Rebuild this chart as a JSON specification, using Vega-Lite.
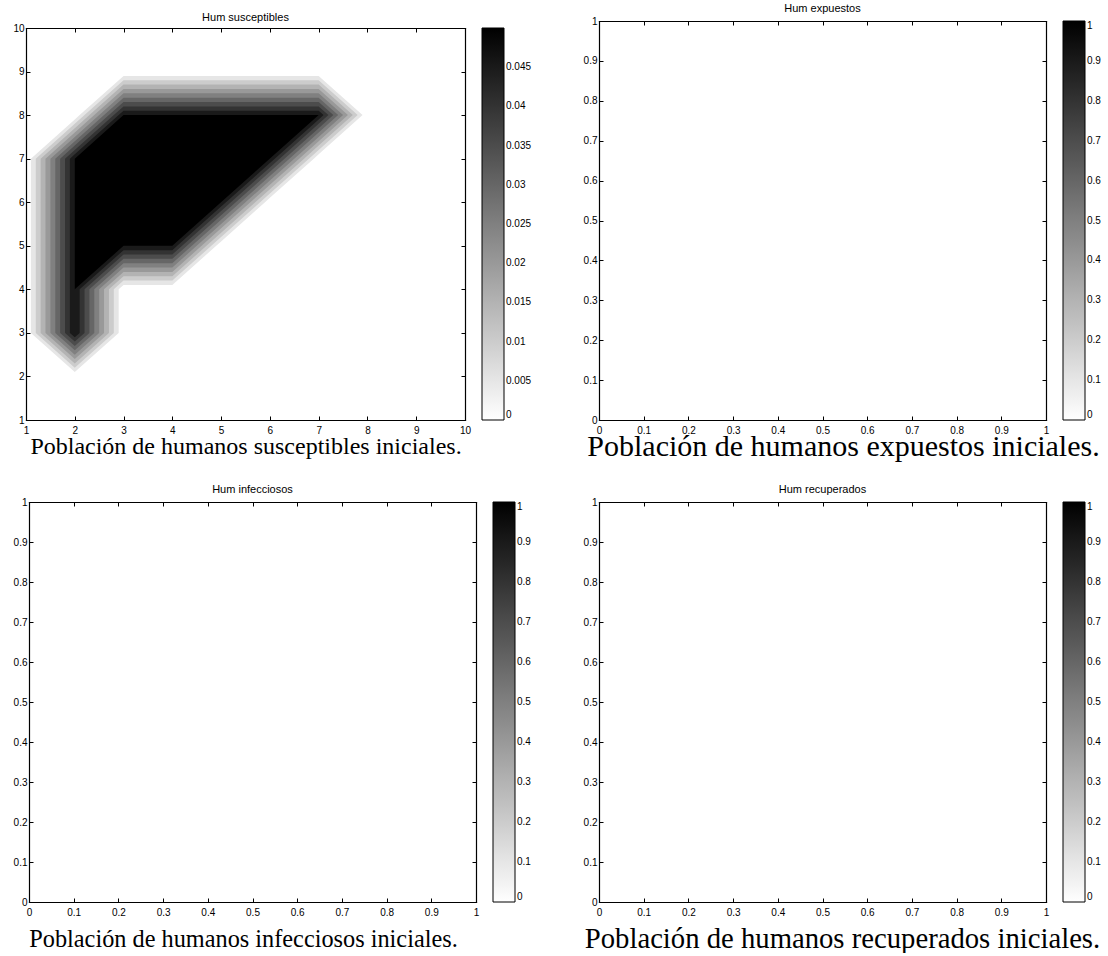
{
  "$schema": "https://vega.github.io/schema/vega-lite/v6.json",
  "background": "white",
  "padding": {"left": 12, "top": 3, "right": 0, "bottom": 0},
  "spacing": 23,
  "resolve": {"scale": {"color": "independent"}, "legend": {"color": "independent"}},
  "config": {
    "font": "Liberation Sans",
    "view": {"stroke": null},
    "axis": {"domain": true, "domainColor": "#000", "domainWidth": 1.2, "domainCap": "square", "grid": false, "ticks": true, "tickSize": -4, "tickColor": "#000", "tickWidth": 1, "labelFont": "Liberation Sans", "labelFontSize": 10, "labelColor": "#000", "labelFlush": false, "labelOverlap": false, "titleFont": "Liberation Serif", "titleFontWeight": "normal", "titleColor": "#000"},
    "legend": {"gradientThickness": 22, "gradientStrokeColor": "#000", "gradientStrokeWidth": 1, "labelFont": "Liberation Sans", "labelFontSize": 10, "labelColor": "#000", "labelOffset": 3, "padding": 0, "labelOverlap": false},
    "title": {"font": "Liberation Sans", "fontSize": 11, "fontWeight": "normal", "color": "#000", "anchor": "middle", "offset": 2}
  },
  "vconcat": [
    {
      "spacing": 51,
      "resolve": {"scale": {"color": "independent"}, "legend": {"color": "independent"}},
      "hconcat": [
        {
          "width": 439, "height": 399,
          "title": {"text": "Hum susceptibles", "dy": 4},
          "data": {"values": [
            {"v":0.005,"i":0,"x":1.1,"y":3},{"v":0.005,"i":1,"x":2,"y":2.1},{"v":0.005,"i":2,"x":2.9,"y":3},{"v":0.005,"i":3,"x":2.9,"y":4},{"v":0.005,"i":4,"x":3,"y":4.1},{"v":0.005,"i":5,"x":4,"y":4.1},{"v":0.005,"i":6,"x":4.9,"y":5},{"v":0.005,"i":7,"x":5,"y":5.1},{"v":0.005,"i":8,"x":5.9,"y":6},{"v":0.005,"i":9,"x":6,"y":6.1},{"v":0.005,"i":10,"x":6.9,"y":7},{"v":0.005,"i":11,"x":7,"y":7.1},{"v":0.005,"i":12,"x":7.9,"y":8},{"v":0.005,"i":13,"x":7,"y":8.9},{"v":0.005,"i":14,"x":3,"y":8.9},{"v":0.005,"i":15,"x":2.1,"y":8},{"v":0.005,"i":16,"x":2,"y":7.9},{"v":0.005,"i":17,"x":1.1,"y":7},
            {"v":0.01,"i":0,"x":1.2,"y":3},{"v":0.01,"i":1,"x":2,"y":2.2},{"v":0.01,"i":2,"x":2.8,"y":3},{"v":0.01,"i":3,"x":2.8,"y":4},{"v":0.01,"i":4,"x":3,"y":4.2},{"v":0.01,"i":5,"x":4,"y":4.2},{"v":0.01,"i":6,"x":4.8,"y":5},{"v":0.01,"i":7,"x":5,"y":5.2},{"v":0.01,"i":8,"x":5.8,"y":6},{"v":0.01,"i":9,"x":6,"y":6.2},{"v":0.01,"i":10,"x":6.8,"y":7},{"v":0.01,"i":11,"x":7,"y":7.2},{"v":0.01,"i":12,"x":7.8,"y":8},{"v":0.01,"i":13,"x":7,"y":8.8},{"v":0.01,"i":14,"x":3,"y":8.8},{"v":0.01,"i":15,"x":2.2,"y":8},{"v":0.01,"i":16,"x":2,"y":7.8},{"v":0.01,"i":17,"x":1.2,"y":7},
            {"v":0.015,"i":0,"x":1.3,"y":3},{"v":0.015,"i":1,"x":2,"y":2.3},{"v":0.015,"i":2,"x":2.7,"y":3},{"v":0.015,"i":3,"x":2.7,"y":4},{"v":0.015,"i":4,"x":3,"y":4.3},{"v":0.015,"i":5,"x":4,"y":4.3},{"v":0.015,"i":6,"x":4.7,"y":5},{"v":0.015,"i":7,"x":5,"y":5.3},{"v":0.015,"i":8,"x":5.7,"y":6},{"v":0.015,"i":9,"x":6,"y":6.3},{"v":0.015,"i":10,"x":6.7,"y":7},{"v":0.015,"i":11,"x":7,"y":7.3},{"v":0.015,"i":12,"x":7.7,"y":8},{"v":0.015,"i":13,"x":7,"y":8.7},{"v":0.015,"i":14,"x":3,"y":8.7},{"v":0.015,"i":15,"x":2.3,"y":8},{"v":0.015,"i":16,"x":2,"y":7.7},{"v":0.015,"i":17,"x":1.3,"y":7},
            {"v":0.02,"i":0,"x":1.4,"y":3},{"v":0.02,"i":1,"x":2,"y":2.4},{"v":0.02,"i":2,"x":2.6,"y":3},{"v":0.02,"i":3,"x":2.6,"y":4},{"v":0.02,"i":4,"x":3,"y":4.4},{"v":0.02,"i":5,"x":4,"y":4.4},{"v":0.02,"i":6,"x":4.6,"y":5},{"v":0.02,"i":7,"x":5,"y":5.4},{"v":0.02,"i":8,"x":5.6,"y":6},{"v":0.02,"i":9,"x":6,"y":6.4},{"v":0.02,"i":10,"x":6.6,"y":7},{"v":0.02,"i":11,"x":7,"y":7.4},{"v":0.02,"i":12,"x":7.6,"y":8},{"v":0.02,"i":13,"x":7,"y":8.6},{"v":0.02,"i":14,"x":3,"y":8.6},{"v":0.02,"i":15,"x":2.4,"y":8},{"v":0.02,"i":16,"x":2,"y":7.6},{"v":0.02,"i":17,"x":1.4,"y":7},
            {"v":0.025,"i":0,"x":1.5,"y":3},{"v":0.025,"i":1,"x":2,"y":2.5},{"v":0.025,"i":2,"x":2.5,"y":3},{"v":0.025,"i":3,"x":2.5,"y":4},{"v":0.025,"i":4,"x":3,"y":4.5},{"v":0.025,"i":5,"x":4,"y":4.5},{"v":0.025,"i":6,"x":4.5,"y":5},{"v":0.025,"i":7,"x":5,"y":5.5},{"v":0.025,"i":8,"x":5.5,"y":6},{"v":0.025,"i":9,"x":6,"y":6.5},{"v":0.025,"i":10,"x":6.5,"y":7},{"v":0.025,"i":11,"x":7,"y":7.5},{"v":0.025,"i":12,"x":7.5,"y":8},{"v":0.025,"i":13,"x":7,"y":8.5},{"v":0.025,"i":14,"x":3,"y":8.5},{"v":0.025,"i":15,"x":2.5,"y":8},{"v":0.025,"i":16,"x":2,"y":7.5},{"v":0.025,"i":17,"x":1.5,"y":7},
            {"v":0.03,"i":0,"x":1.6,"y":3},{"v":0.03,"i":1,"x":2,"y":2.6},{"v":0.03,"i":2,"x":2.4,"y":3},{"v":0.03,"i":3,"x":2.4,"y":4},{"v":0.03,"i":4,"x":3,"y":4.6},{"v":0.03,"i":5,"x":4,"y":4.6},{"v":0.03,"i":6,"x":4.4,"y":5},{"v":0.03,"i":7,"x":5,"y":5.6},{"v":0.03,"i":8,"x":5.4,"y":6},{"v":0.03,"i":9,"x":6,"y":6.6},{"v":0.03,"i":10,"x":6.4,"y":7},{"v":0.03,"i":11,"x":7,"y":7.6},{"v":0.03,"i":12,"x":7.4,"y":8},{"v":0.03,"i":13,"x":7,"y":8.4},{"v":0.03,"i":14,"x":3,"y":8.4},{"v":0.03,"i":15,"x":2.6,"y":8},{"v":0.03,"i":16,"x":2,"y":7.4},{"v":0.03,"i":17,"x":1.6,"y":7},
            {"v":0.035,"i":0,"x":1.7,"y":3},{"v":0.035,"i":1,"x":2,"y":2.7},{"v":0.035,"i":2,"x":2.3,"y":3},{"v":0.035,"i":3,"x":2.3,"y":4},{"v":0.035,"i":4,"x":3,"y":4.7},{"v":0.035,"i":5,"x":4,"y":4.7},{"v":0.035,"i":6,"x":4.3,"y":5},{"v":0.035,"i":7,"x":5,"y":5.7},{"v":0.035,"i":8,"x":5.3,"y":6},{"v":0.035,"i":9,"x":6,"y":6.7},{"v":0.035,"i":10,"x":6.3,"y":7},{"v":0.035,"i":11,"x":7,"y":7.7},{"v":0.035,"i":12,"x":7.3,"y":8},{"v":0.035,"i":13,"x":7,"y":8.3},{"v":0.035,"i":14,"x":3,"y":8.3},{"v":0.035,"i":15,"x":2.7,"y":8},{"v":0.035,"i":16,"x":2,"y":7.3},{"v":0.035,"i":17,"x":1.7,"y":7},
            {"v":0.04,"i":0,"x":1.8,"y":3},{"v":0.04,"i":1,"x":2,"y":2.8},{"v":0.04,"i":2,"x":2.2,"y":3},{"v":0.04,"i":3,"x":2.2,"y":4},{"v":0.04,"i":4,"x":3,"y":4.8},{"v":0.04,"i":5,"x":4,"y":4.8},{"v":0.04,"i":6,"x":4.2,"y":5},{"v":0.04,"i":7,"x":5,"y":5.8},{"v":0.04,"i":8,"x":5.2,"y":6},{"v":0.04,"i":9,"x":6,"y":6.8},{"v":0.04,"i":10,"x":6.2,"y":7},{"v":0.04,"i":11,"x":7,"y":7.8},{"v":0.04,"i":12,"x":7.2,"y":8},{"v":0.04,"i":13,"x":7,"y":8.2},{"v":0.04,"i":14,"x":3,"y":8.2},{"v":0.04,"i":15,"x":2.8,"y":8},{"v":0.04,"i":16,"x":2,"y":7.2},{"v":0.04,"i":17,"x":1.8,"y":7},
            {"v":0.045,"i":0,"x":1.9,"y":3},{"v":0.045,"i":1,"x":2,"y":2.9},{"v":0.045,"i":2,"x":2.1,"y":3},{"v":0.045,"i":3,"x":2.1,"y":4},{"v":0.045,"i":4,"x":3,"y":4.9},{"v":0.045,"i":5,"x":4,"y":4.9},{"v":0.045,"i":6,"x":4.1,"y":5},{"v":0.045,"i":7,"x":5,"y":5.9},{"v":0.045,"i":8,"x":5.1,"y":6},{"v":0.045,"i":9,"x":6,"y":6.9},{"v":0.045,"i":10,"x":6.1,"y":7},{"v":0.045,"i":11,"x":7,"y":7.9},{"v":0.045,"i":12,"x":7.1,"y":8},{"v":0.045,"i":13,"x":7,"y":8.1},{"v":0.045,"i":14,"x":3,"y":8.1},{"v":0.045,"i":15,"x":2.9,"y":8},{"v":0.045,"i":16,"x":2,"y":7.1},{"v":0.045,"i":17,"x":1.9,"y":7},
            {"v":0.05,"i":0,"x":2,"y":3},{"v":0.05,"i":1,"x":2,"y":4},{"v":0.05,"i":2,"x":3,"y":5},{"v":0.05,"i":3,"x":4,"y":5},{"v":0.05,"i":4,"x":7,"y":8},{"v":0.05,"i":5,"x":3,"y":8},{"v":0.05,"i":6,"x":2,"y":7}
          ]},
          "layer": [
            {
              "mark": {"type": "line", "filled": true, "strokeWidth": 0, "interpolate": "linear"},
              "encoding": {
                "x": {"field": "x", "type": "quantitative", "scale": {"domain": [1, 10], "nice": false, "zero": false},
                      "axis": {"orient": "bottom", "values": [1,2,3,4,5,6,7,8,9,10], "format": ".2~g", "labelPadding": 9, "title": "Población de humanos susceptibles iniciales.", "titleFontSize": 24, "titleX": 219.5, "titleY": 33, "titleBaseline": "alphabetic", "titleAlign": "center"}},
                "y": {"field": "y", "type": "quantitative", "scale": {"domain": [1, 10], "nice": false, "zero": false, "range": [399, 7]},
                      "axis": {"orient": "left", "values": [1,2,3,4,5,6,7,8,9,10], "format": ".2~g", "labelPadding": 6, "title": null}},
                "color": {"field": "v", "type": "quantitative", "scale": {"domain": [0, 0.05], "range": ["#ffffff", "#000000"], "interpolate": "rgb"},
                          "legend": {"orient": "none", "legendX": 456, "legendY": 7, "gradientLength": 392, "direction": "vertical", "values": [0,0.005,0.01,0.015,0.02,0.025,0.03,0.035,0.04,0.045], "format": ".2~g", "title": null, "labelBaseline": "middle"}},
                "detail": {"field": "v", "type": "nominal"},
                "order": {"field": "i", "type": "quantitative"}
              }
            },
            {
              "mark": {"type": "point", "opacity": 0},
              "encoding": {
                "x": {"field": "x", "type": "quantitative", "axis": {"orient": "top", "offset": -7, "values": [1,2,3,4,5,6,7,8,9,10], "labels": false, "title": null}},
                "y": {"field": "y", "type": "quantitative", "axis": {"orient": "right", "values": [1,2,3,4,5,6,7,8,9,10], "labels": false, "title": null}}
              }
            }
          ],
          "resolve": {"axis": {"x": "independent", "y": "independent"}}
        },
        {
          "width": 447, "height": 399,
          "title": {"text": "Hum expuestos"},
          "data": {"values": []},
          "layer": [
            {
              "mark": {"type": "line", "filled": true, "strokeWidth": 0},
              "encoding": {
                "x": {"field": "x", "type": "quantitative", "scale": {"domain": [0, 1], "nice": false, "zero": false},
                      "axis": {"orient": "bottom", "values": [0,0.1,0.2,0.3,0.4,0.5,0.6,0.7,0.8,0.9,1], "format": "~g", "labelPadding": 9, "title": "Población de humanos expuestos iniciales.", "titleFontSize": 30, "titleX": 244, "titleY": 35, "titleBaseline": "alphabetic", "titleAlign": "center"}},
                "y": {"field": "y", "type": "quantitative", "scale": {"domain": [0, 1], "nice": false, "zero": false},
                      "axis": {"orient": "left", "values": [0,0.1,0.2,0.3,0.4,0.5,0.6,0.7,0.8,0.9,1], "format": "~g", "labelPadding": 6, "title": null}},
                "color": {"field": "v", "type": "quantitative", "scale": {"domain": [0, 1], "range": ["#ffffff", "#000000"], "interpolate": "rgb"},
                          "legend": {"orient": "none", "legendX": 464, "legendY": 0, "gradientLength": 399, "direction": "vertical", "values": [0,0.1,0.2,0.3,0.4,0.5,0.6,0.7,0.8,0.9,1], "format": "~g", "title": null, "labelBaseline": "middle"}},
                "order": {"field": "i", "type": "quantitative"}
              }
            },
            {
              "mark": {"type": "point", "opacity": 0},
              "encoding": {
                "x": {"field": "x", "type": "quantitative", "axis": {"orient": "top", "values": [0,0.1,0.2,0.3,0.4,0.5,0.6,0.7,0.8,0.9,1], "labels": false, "title": null}},
                "y": {"field": "y", "type": "quantitative", "axis": {"orient": "right", "values": [0,0.1,0.2,0.3,0.4,0.5,0.6,0.7,0.8,0.9,1], "labels": false, "title": null}}
              }
            }
          ],
          "resolve": {"axis": {"x": "independent", "y": "independent"}}
        }
      ]
    },
    {
      "spacing": 52,
      "resolve": {"scale": {"color": "independent"}, "legend": {"color": "independent"}},
      "hconcat": [
        {
          "width": 450, "height": 400,
          "title": {"text": "Hum infecciosos", "dx": 1.5},
          "data": {"values": []},
          "layer": [
            {
              "mark": {"type": "line", "filled": true, "strokeWidth": 0},
              "encoding": {
                "x": {"field": "x", "type": "quantitative", "scale": {"domain": [0, 1], "nice": false, "zero": false, "range": [3, 450]},
                      "axis": {"orient": "bottom", "values": [0,0.1,0.2,0.3,0.4,0.5,0.6,0.7,0.8,0.9,1], "format": "~g", "labelPadding": 9, "title": "Población de humanos infecciosos iniciales.", "titleFontSize": 24.3, "titleX": 217, "titleY": 44, "titleBaseline": "alphabetic", "titleAlign": "center"}},
                "y": {"field": "y", "type": "quantitative", "scale": {"domain": [0, 1], "nice": false, "zero": false},
                      "axis": {"orient": "left", "offset": -3, "values": [0,0.1,0.2,0.3,0.4,0.5,0.6,0.7,0.8,0.9,1], "format": "~g", "labelPadding": 6, "title": null}},
                "color": {"field": "v", "type": "quantitative", "scale": {"domain": [0, 1], "range": ["#ffffff", "#000000"], "interpolate": "rgb"},
                          "legend": {"orient": "none", "legendX": 467, "legendY": 0, "gradientLength": 400, "direction": "vertical", "values": [0,0.1,0.2,0.3,0.4,0.5,0.6,0.7,0.8,0.9,1], "format": "~g", "title": null, "labelBaseline": "middle"}},
                "order": {"field": "i", "type": "quantitative"}
              }
            },
            {
              "mark": {"type": "point", "opacity": 0},
              "encoding": {
                "x": {"field": "x", "type": "quantitative", "axis": {"orient": "top", "values": [0,0.1,0.2,0.3,0.4,0.5,0.6,0.7,0.8,0.9,1], "labels": false, "title": null}},
                "y": {"field": "y", "type": "quantitative", "axis": {"orient": "right", "values": [0,0.1,0.2,0.3,0.4,0.5,0.6,0.7,0.8,0.9,1], "labels": false, "title": null}}
              }
            }
          ],
          "resolve": {"axis": {"x": "independent", "y": "independent"}}
        },
        {
          "width": 447, "height": 400,
          "title": {"text": "Hum recuperados"},
          "data": {"values": []},
          "layer": [
            {
              "mark": {"type": "line", "filled": true, "strokeWidth": 0},
              "encoding": {
                "x": {"field": "x", "type": "quantitative", "scale": {"domain": [0, 1], "nice": false, "zero": false},
                      "axis": {"orient": "bottom", "values": [0,0.1,0.2,0.3,0.4,0.5,0.6,0.7,0.8,0.9,1], "format": "~g", "labelPadding": 9, "title": "Población de humanos recuperados iniciales.", "titleFontSize": 28.7, "titleX": 243, "titleY": 45, "titleBaseline": "alphabetic", "titleAlign": "center"}},
                "y": {"field": "y", "type": "quantitative", "scale": {"domain": [0, 1], "nice": false, "zero": false},
                      "axis": {"orient": "left", "values": [0,0.1,0.2,0.3,0.4,0.5,0.6,0.7,0.8,0.9,1], "format": "~g", "labelPadding": 6, "title": null}},
                "color": {"field": "v", "type": "quantitative", "scale": {"domain": [0, 1], "range": ["#ffffff", "#000000"], "interpolate": "rgb"},
                          "legend": {"orient": "none", "legendX": 464, "legendY": 0, "gradientLength": 400, "direction": "vertical", "values": [0,0.1,0.2,0.3,0.4,0.5,0.6,0.7,0.8,0.9,1], "format": "~g", "title": null, "labelBaseline": "middle"}},
                "order": {"field": "i", "type": "quantitative"}
              }
            },
            {
              "mark": {"type": "point", "opacity": 0},
              "encoding": {
                "x": {"field": "x", "type": "quantitative", "axis": {"orient": "top", "values": [0,0.1,0.2,0.3,0.4,0.5,0.6,0.7,0.8,0.9,1], "labels": false, "title": null}},
                "y": {"field": "y", "type": "quantitative", "axis": {"orient": "right", "values": [0,0.1,0.2,0.3,0.4,0.5,0.6,0.7,0.8,0.9,1], "labels": false, "title": null}}
              }
            }
          ],
          "resolve": {"axis": {"x": "independent", "y": "independent"}}
        }
      ]
    }
  ]
}
